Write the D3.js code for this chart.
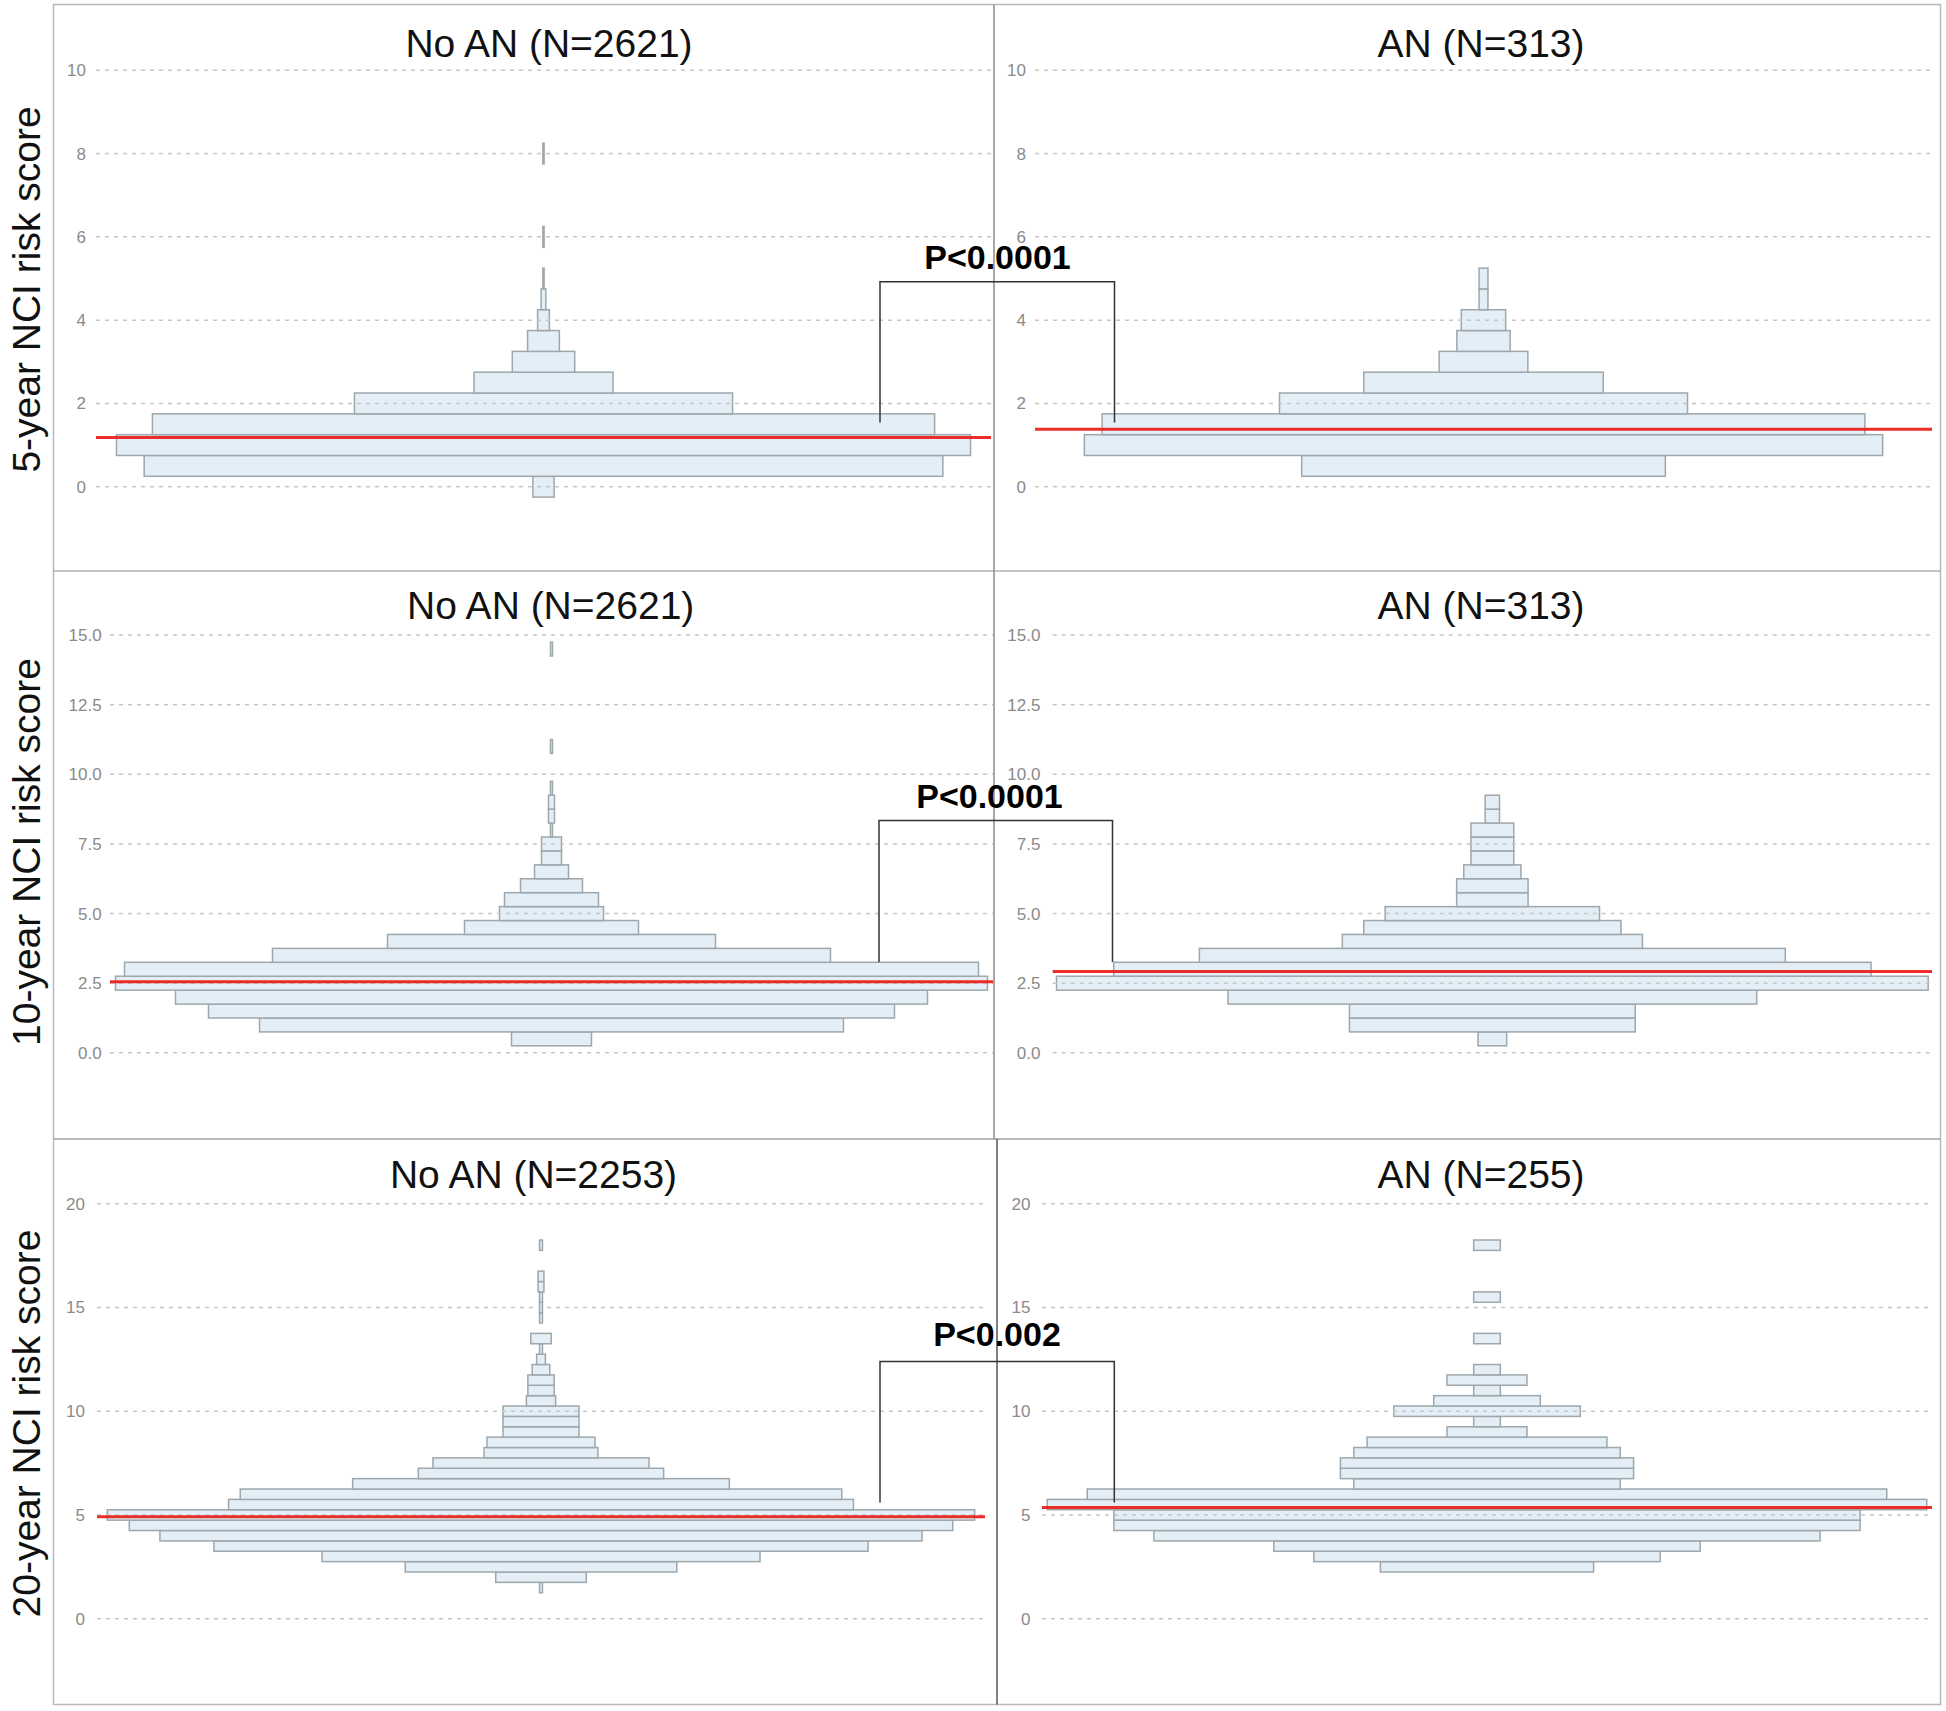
<!DOCTYPE html>
<html><head><meta charset="utf-8">
<script src="https://cdn.jsdelivr.net/npm/d3@7"></script>
<style>body{margin:0;background:#fff} svg{display:block}</style>
</head><body><svg id="chart" width="1946" height="1711"></svg>
<script>
// ---------------- DATA ----------------
const rowTitles = ["5-year NCI risk score", "10-year NCI risk score", "20-year NCI risk score"];
const groupLabels = [["No AN (N=2621)", "AN (N=313)"], ["No AN (N=2621)", "AN (N=313)"], ["No AN (N=2253)", "AN (N=255)"]];
const pLabels = ["P<0.0001", "P<0.0001", "P<0.002"];

const ticks5yr = [0, 2, 4, 6, 8, 10];
const ticks10yr = [0, 2.5, 5, 7.5, 10, 12.5, 15];
const ticks20yr = [0, 5, 10, 15, 20];

// histogram bins (bin centre, width 0.5) and counts
const bins5yrNoAN = [0, 0.5, 1, 1.5, 2, 2.5, 3, 3.5, 4, 4.5, 5, 6, 8];
const counts5yrNoAN = [18, 678, 725, 664, 321, 118, 53, 27, 10, 4, 1, 1, 1];
const bins5yrAN = [0.5, 1, 1.5, 2, 2.5, 3, 3.5, 4, 4.5, 5];
const counts5yrAN = [41, 90, 86, 46, 27, 10, 6, 5, 1, 1];

const bins10yrNoAN = [0.5, 1, 1.5, 2, 2.5, 3, 3.5, 4, 4.5, 5, 5.5, 6, 6.5, 7, 7.5, 8, 8.5, 9, 9.5, 11, 14.5];
const counts10yrNoAN = [40, 292, 343, 376, 436, 427, 279, 164, 87, 52, 47, 31, 17, 10, 10, 1, 3, 3, 1, 1, 1];
const bins10yrAN = [0.5, 1, 1.5, 2, 2.5, 3, 3.5, 4, 4.5, 5, 5.5, 6, 6.5, 7, 7.5, 8, 8.5, 9];
const counts10yrAN = [2, 20, 20, 37, 61, 53, 41, 21, 18, 15, 5, 5, 4, 3, 3, 3, 1, 1];

const bins20yrNoAN = [1.5, 2, 2.5, 3, 3.5, 4, 4.5, 5, 5.5, 6, 6.5, 7, 7.5, 8, 8.5, 9, 9.5, 10, 10.5, 11, 11.5, 12, 12.5, 13, 13.5, 14.5, 15, 15.5, 16, 16.5, 18];
const counts20yrNoAN = [1, 31, 93, 150, 224, 261, 282, 297, 214, 206, 129, 84, 74, 39, 37, 26, 26, 26, 10, 9, 9, 6, 3, 1, 7, 1, 1, 1, 2, 2, 1];
const bins20yrAN = [2.5, 3, 3.5, 4, 4.5, 5, 5.5, 6, 6.5, 7, 7.5, 8, 8.5, 9, 9.5, 10, 10.5, 11, 11.5, 12, 13.5, 15.5, 18];
const counts20yrAN = [8, 13, 16, 25, 28, 28, 33, 30, 10, 11, 11, 10, 9, 3, 1, 7, 4, 1, 3, 1, 1, 1, 1];

const meansNoAN = [1.18, 2.55, 4.91];
const meansAN = [1.38, 2.92, 5.36];

// ---------------- LAYOUT ----------------
const FONT = "'Liberation Sans', Arial, Helvetica, sans-serif";
const binHalf = 0.25;
const rowsCfg = [
  { ticks: ticks5yr, fmt: d3.format("d"), yDomain: [0, 10], yRange: [486.7, 70.3], titleY: 57, axisTitleY: 289.5,
    bracket: { xl: 880, xr: 1114.5, top: 4.92, bottom: 1.54 }, pPos: [997.5, 269.3],
    panels: [
      { bins: bins5yrNoAN, counts: counts5yrNoAN, mean: meansNoAN[0], x0: 96, x1: 991, ppc: 1.178, labelX: 86, titleX: 549 },
      { bins: bins5yrAN, counts: counts5yrAN, mean: meansAN[0], x0: 1035, x1: 1932, ppc: 8.87, labelX: 1026, titleX: 1481 }
    ] },
  { ticks: ticks10yr, fmt: d3.format(".1f"), yDomain: [0, 15], yRange: [1052.8, 635.1], titleY: 619, axisTitleY: 852,
    bracket: { xl: 879, xr: 1112.5, top: 8.34, bottom: 3.26 }, pPos: [989.5, 808],
    panels: [
      { bins: bins10yrNoAN, counts: counts10yrNoAN, mean: meansNoAN[1], x0: 110, x1: 993, ppc: 2.0, labelX: 101.7, titleX: 550.7 },
      { bins: bins10yrAN, counts: counts10yrAN, mean: meansAN[1], x0: 1052.7, x1: 1932, ppc: 14.29, labelX: 1040.4, titleX: 1481 }
    ] },
  { ticks: ticks20yr, fmt: d3.format("d"), yDomain: [0, 20], yRange: [1618.7, 1203.7], titleY: 1188, axisTitleY: 1423.5,
    bracket: { xl: 880, xr: 1114.3, top: 12.4, bottom: 5.6 }, pPos: [997, 1346],
    panels: [
      { bins: bins20yrNoAN, counts: counts20yrNoAN, mean: meansNoAN[2], x0: 97, x1: 985, ppc: 2.92, labelX: 85, titleX: 533.5 },
      { bins: bins20yrAN, counts: counts20yrAN, mean: meansAN[2], x0: 1042, x1: 1932, ppc: 26.65, labelX: 1030.5, titleX: 1481 }
    ] }
];

const svg = d3.select("#chart");
svg.append("rect").attr("width", 1946).attr("height", 1711).attr("fill", "#fff");

// frame
const frame = svg.append("g").attr("fill", "none");
frame.append("rect").attr("x", 53.5).attr("y", 4.5).attr("width", 1887).attr("height", 1700)
  .attr("stroke", "#b8b8b8").attr("stroke-width", 1.5);
frame.append("line").attr("x1", 53.5).attr("x2", 1940.5).attr("y1", 571).attr("y2", 571).attr("stroke", "#b0b0b0").attr("stroke-width", 1.5);
frame.append("line").attr("x1", 53.5).attr("x2", 1940.5).attr("y1", 1139).attr("y2", 1139).attr("stroke", "#a0a0a0").attr("stroke-width", 1.5);
frame.append("line").attr("x1", 994).attr("x2", 994).attr("y1", 4.5).attr("y2", 1139).attr("stroke", "#8a8a8a").attr("stroke-width", 1.5);
frame.append("line").attr("x1", 997).attr("x2", 997).attr("y1", 1139).attr("y2", 1704.5).attr("stroke", "#555").attr("stroke-width", 1.5);

rowsCfg.forEach((row, ri) => {
  const y = d3.scaleLinear().domain(row.yDomain).range(row.yRange);

  // row axis title
  svg.append("text")
    .attr("transform", `translate(40,${row.axisTitleY}) rotate(-90)`)
    .attr("text-anchor", "middle")
    .attr("font-family", FONT).attr("font-size", 39).attr("fill", "#111")
    .text(rowTitles[ri]);

  let leftX = null;
  row.panels.forEach((p, pi) => {
    const half = (p.x1 - p.x0) / 2 / p.ppc;
    const x = d3.scaleLinear().domain([-half, half]).range([p.x0, p.x1]);
    if (pi === 0) leftX = x;
    const g = svg.append("g");

    // bars
    const data = p.bins.map((b, i) => ({ b, c: p.counts[i] }));
    g.selectAll("rect.bar").data(data).join("rect").attr("class", "bar")
      .attr("x", d => x(-d.c / 2))
      .attr("width", d => x(d.c / 2) - x(-d.c / 2))
      .attr("y", d => y(d.b + binHalf))
      .attr("height", d => y(d.b - binHalf) - y(d.b + binHalf))
      .attr("fill", "#e3eef6").attr("stroke", "#9ea7ab").attr("stroke-width", 1.5);

    // gridlines (drawn over bars, dotted)
    g.selectAll("line.grid").data(row.ticks).join("line").attr("class", "grid")
      .attr("x1", p.x0).attr("x2", p.x1)
      .attr("y1", d => y(d)).attr("y2", d => y(d))
      .attr("stroke", "#c6c6c6").attr("stroke-width", 1.5).attr("stroke-dasharray", "4,5");

    // tick labels
    const ax = g.append("g").attr("transform", `translate(${p.labelX},0)`)
      .call(d3.axisLeft(y).tickValues(row.ticks).tickSize(0).tickPadding(0).tickFormat(row.fmt));
    ax.select(".domain").remove();
    ax.selectAll("text").attr("font-family", FONT).attr("font-size", 17).attr("fill", "#8a8a8a");

    // mean line
    g.append("line").attr("x1", p.x0).attr("x2", p.x1)
      .attr("y1", y(p.mean)).attr("y2", y(p.mean))
      .attr("stroke", "#ec1c17").attr("stroke-width", 3).attr("opacity", 0.92);

    // panel title
    g.append("text").attr("x", p.titleX).attr("y", row.titleY)
      .attr("text-anchor", "middle").attr("font-family", FONT).attr("font-size", 39).attr("fill", "#111")
      .text(groupLabels[ri][pi]);
  });

  // significance bracket
  const br = row.bracket;
  svg.append("path")
    .attr("d", `M${br.xl},${y(br.bottom)}V${y(br.top)}H${br.xr}V${y(br.bottom)}`)
    .attr("fill", "none").attr("stroke", "#333").attr("stroke-width", 1.5);
  svg.append("text").attr("x", row.pPos[0]).attr("y", row.pPos[1])
    .attr("text-anchor", "middle").attr("font-family", FONT).attr("font-size", 34)
    .attr("font-weight", "bold").attr("fill", "#000")
    .text(pLabels[ri]);
});
</script>
</body></html>
